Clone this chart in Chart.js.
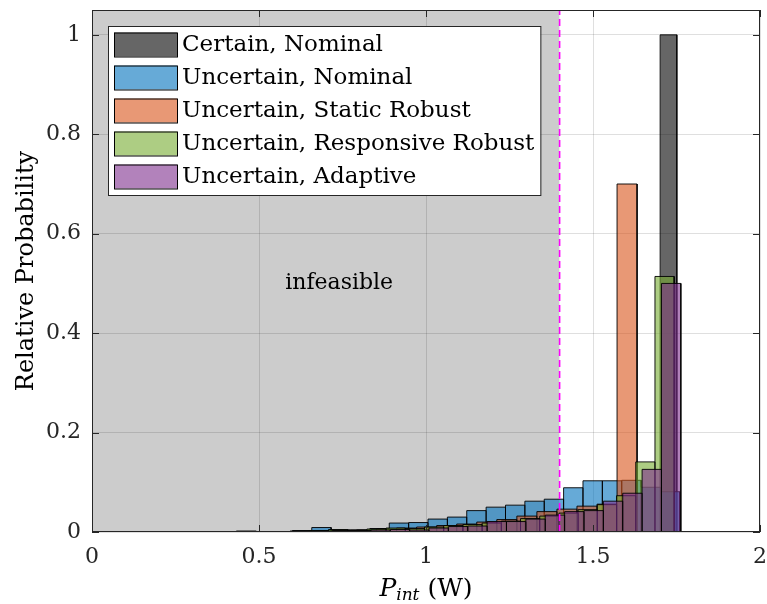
<!DOCTYPE html>
<html>
<head>
<meta charset="utf-8">
<script src="https://cdn.jsdelivr.net/npm/chart.js@4.4.1/dist/chart.umd.min.js"></script>
<style>
  html, body { margin: 0; padding: 0; background: #fff; }
  #wrap { width: 767px; height: 604px; }
</style>
</head>
<body>
<div id="wrap"><canvas id="c" width="767" height="604"></canvas></div>
<script>
'use strict';

// ── data ──────────────────────────────────────────────────
const seriesNames = [
  'Certain, Nominal',
  'Uncertain, Nominal',
  'Uncertain, Static Robust',
  'Uncertain, Responsive Robust',
  'Uncertain, Adaptive'
];

const certainEdges   = [1.701, 1.751];
const certainHeights = [1.0];

const nominalEdges   = [0.600, 0.658, 0.716, 0.774, 0.832, 0.890, 0.948, 1.006, 1.064, 1.122, 1.180,
                        1.238, 1.296, 1.354, 1.412, 1.470, 1.528, 1.586, 1.644, 1.702, 1.760];
const nominalHeights = [0.003, 0.009, 0.004, 0.004, 0.007, 0.018, 0.019, 0.026, 0.030, 0.043,
                        0.050, 0.054, 0.062, 0.066, 0.089, 0.103, 0.103, 0.104, 0.090, 0.081];

const staticEdges    = [0.432, 0.492, 0.552, 0.612, 0.672, 0.732, 0.792, 0.852, 0.912, 0.972, 1.032,
                        1.092, 1.152, 1.212, 1.272, 1.332, 1.392, 1.452, 1.512, 1.572, 1.632];
const staticHeights  = [0.002, 0.000, 0.000, 0.001, 0.002, 0.003, 0.004, 0.006, 0.008, 0.010,
                        0.013, 0.016, 0.020, 0.025, 0.032, 0.041, 0.046, 0.052, 0.056, 0.700];

const responsiveEdges   = [0.593, 0.6505, 0.708, 0.7655, 0.823, 0.8805, 0.938, 0.9955, 1.053, 1.1105, 1.168,
                           1.2255, 1.283, 1.3405, 1.398, 1.4555, 1.513, 1.5705, 1.628, 1.6855, 1.743];
const responsiveHeights = [0.002, 0.003, 0.005, 0.004, 0.006, 0.008, 0.007, 0.010, 0.013, 0.015,
                           0.018, 0.022, 0.027, 0.032, 0.038, 0.045, 0.055, 0.073, 0.141, 0.514];

const adaptiveEdges   = [0.603, 0.661, 0.719, 0.777, 0.835, 0.893, 0.951, 1.009, 1.067, 1.125, 1.183,
                         1.241, 1.299, 1.357, 1.415, 1.473, 1.531, 1.589, 1.647, 1.705, 1.763];
const adaptiveHeights = [0.001, 0.002, 0.003, 0.003, 0.004, 0.005, 0.004, 0.008, 0.011, 0.012,
                         0.021, 0.021, 0.026, 0.034, 0.041, 0.043, 0.062, 0.078, 0.126, 0.500];

const infeasibleRange = [0, 1.4];
const limitLine = 1.4;
const infeasibleLabel = { text: 'infeasible', x: 0.74, y: 0.50 };

const xTicks = [0, 0.5, 1, 1.5, 2];
const yTicks = [0, 0.2, 0.4, 0.6, 0.8, 1];
const xRange = [0, 2];
const yRange = [0, 1.05];

// MATLAB colour order, FaceAlpha 0.6
const fills = [
  'rgba(0,0,0,0.6)',
  'rgba(0,114,189,0.6)',
  'rgba(217,83,25,0.6)',
  'rgba(119,172,48,0.6)',
  'rgba(126,47,142,0.6)'
];

const FONT = '"DejaVu Serif", serif';
const AXIS = '#262626';

// one closed outline per bin, so every bin gets its own edges
function histPoints(edges, heights) {
  const pts = [];
  heights.forEach((h, i) => {
    pts.push({ x: edges[i], y: 0 }, { x: edges[i], y: h },
             { x: edges[i + 1], y: h }, { x: edges[i + 1], y: 0 });
  });
  return pts;
}

function histSet(label, edges, heights, idx) {
  return {
    label,
    data: histPoints(edges, heights),
    backgroundColor: fills[idx],
    borderColor: 'rgba(0,0,0,0.9)',
    borderWidth: 1,
    pointRadius: 0,
    tension: 0,
    fill: 'origin',
    order: 10 - idx
  };
}

// ── plugins: axes box, legend, labels ─────────────────────
const framePlugin = {
  id: 'frame',
  afterDatasetsDraw(chart) {
    const { ctx, chartArea: a, scales: { x, y } } = chart;
    ctx.save();
    // label inside grey region
    ctx.font = '22px ' + FONT;
    ctx.fillStyle = '#000';
    ctx.textAlign = 'center';
    ctx.textBaseline = 'middle';
    ctx.fillText(infeasibleLabel.text, x.getPixelForValue(infeasibleLabel.x), y.getPixelForValue(infeasibleLabel.y));

    // box + inward ticks
    ctx.strokeStyle = AXIS;
    ctx.lineWidth = 1;
    ctx.strokeRect(a.left + 0.5, a.top + 0.5, a.right - a.left - 1, a.bottom - a.top - 1);
    const tl = 7;
    ctx.beginPath();
    xTicks.forEach(v => {
      const px = Math.round(x.getPixelForValue(v)) + 0.5;
      ctx.moveTo(px, a.bottom); ctx.lineTo(px, a.bottom - tl);
      ctx.moveTo(px, a.top);    ctx.lineTo(px, a.top + tl);
    });
    yTicks.forEach(v => {
      const py = Math.round(y.getPixelForValue(v)) + 0.5;
      ctx.moveTo(a.left, py);  ctx.lineTo(a.left + tl, py);
      ctx.moveTo(a.right, py); ctx.lineTo(a.right - tl, py);
    });
    ctx.stroke();

    // x-axis title: P_int (W)
    const big = '25px ' + FONT, small = '17px ' + FONT;
    ctx.textAlign = 'left';
    ctx.textBaseline = 'alphabetic';
    ctx.font = 'italic ' + big;  const wP = ctx.measureText('P').width;
    ctx.font = 'italic ' + small; const wS = ctx.measureText('int').width;
    ctx.font = big;              const wW = ctx.measureText(' (W)').width;
    let cx = (a.left + a.right) / 2 - (wP + wS + wW) / 2;
    const base = 596;
    ctx.fillStyle = '#000';
    ctx.font = 'italic ' + big;  ctx.fillText('P', cx, base); cx += wP;
    ctx.font = 'italic ' + small; ctx.fillText('int', cx, base + 4); cx += wS;
    ctx.font = big;              ctx.fillText(' (W)', cx, base);
    ctx.restore();
  },
  afterDraw(chart) {
    const { ctx, chartArea: a } = chart;
    ctx.save();
    ctx.font = '23px ' + FONT;
    const textW = Math.max(...seriesNames.map(n => ctx.measureText(n).width));
    const x0 = a.left + 16, y0 = a.top + 16;
    const rowH = 33, swW = 63, swH = 24;
    const w = 6 + swW + 5 + textW + 6;
    const h = rowH * seriesNames.length + 4;
    ctx.fillStyle = '#fff';
    ctx.fillRect(x0, y0, w, h);
    ctx.strokeStyle = AXIS;
    ctx.lineWidth = 1;
    ctx.strokeRect(x0 + 0.5, y0 + 0.5, w, h);
    ctx.textBaseline = 'middle';
    seriesNames.forEach((name, i) => {
      const cy = y0 + 18.5 + rowH * i;
      ctx.fillStyle = fills[i];
      ctx.fillRect(x0 + 6, cy - swH / 2, swW, swH);
      ctx.strokeStyle = '#000';
      ctx.strokeRect(x0 + 6.5, cy - swH / 2 + 0.5, swW, swH);
      ctx.fillStyle = '#000';
      ctx.fillText(name, x0 + 6 + swW + 5, cy + 1);
    });
    ctx.restore();
  }
};

const datasets = [
  histSet(seriesNames[0], certainEdges, certainHeights, 0),
  histSet(seriesNames[1], nominalEdges, nominalHeights, 1),
  histSet(seriesNames[2], staticEdges, staticHeights, 2),
  histSet(seriesNames[3], responsiveEdges, responsiveHeights, 3),
  histSet(seriesNames[4], adaptiveEdges, adaptiveHeights, 4),
  {
    label: 'infeasible',
    data: [{ x: infeasibleRange[0], y: yRange[1] }, { x: infeasibleRange[1], y: yRange[1] }],
    backgroundColor: 'rgba(0,0,0,0.2)',
    borderWidth: 0,
    pointRadius: 0,
    fill: 'origin',
    order: 20
  },
  {
    label: 'limit',
    data: [{ x: limitLine, y: yRange[0] }, { x: limitLine, y: yRange[1] }],
    borderColor: '#ff00ff',
    borderWidth: 1.6,
    borderDash: [7, 4],
    pointRadius: 0,
    fill: false,
    order: 1
  }
];

const tickText = v => String(v);

new Chart(document.getElementById('c'), {
  type: 'line',
  data: { datasets },
  options: {
    responsive: false,
    animation: false,
    events: [],
    layout: { padding: { left: 0, right: 7, top: 10, bottom: 0 } },
    plugins: {
      legend: { display: false },
      tooltip: { enabled: false }
    },
    scales: {
      x: {
        type: 'linear',
        min: xRange[0], max: xRange[1],
        afterBuildTicks: s => { s.ticks = xTicks.map(v => ({ value: v })); },
        afterFit: s => { s.height = 72; s.paddingLeft = 0; s.paddingRight = 0; },
        ticks: { font: { family: FONT, size: 22 }, color: AXIS, padding: 12, maxRotation: 0, callback: tickText },
        grid: { color: 'rgba(38,38,38,0.15)', drawTicks: false },
        border: { display: false }
      },
      y: {
        type: 'linear',
        min: yRange[0], max: yRange[1],
        afterBuildTicks: s => { s.ticks = yTicks.map(v => ({ value: v })); },
        afterFit: s => { s.width = 92; s.paddingTop = 0; s.paddingBottom = 0; },
        ticks: { font: { family: FONT, size: 22 }, color: AXIS, padding: 11, callback: tickText },
        grid: { color: 'rgba(38,38,38,0.15)', drawTicks: false },
        border: { display: false },
        title: {
          display: true,
          text: 'Relative Probability',
          font: { family: FONT, size: 24 },
          color: '#000',
          padding: { top: 12, bottom: 0 }
        }
      }
    }
  },
  plugins: [framePlugin]
});
</script>
</body>
</html>
